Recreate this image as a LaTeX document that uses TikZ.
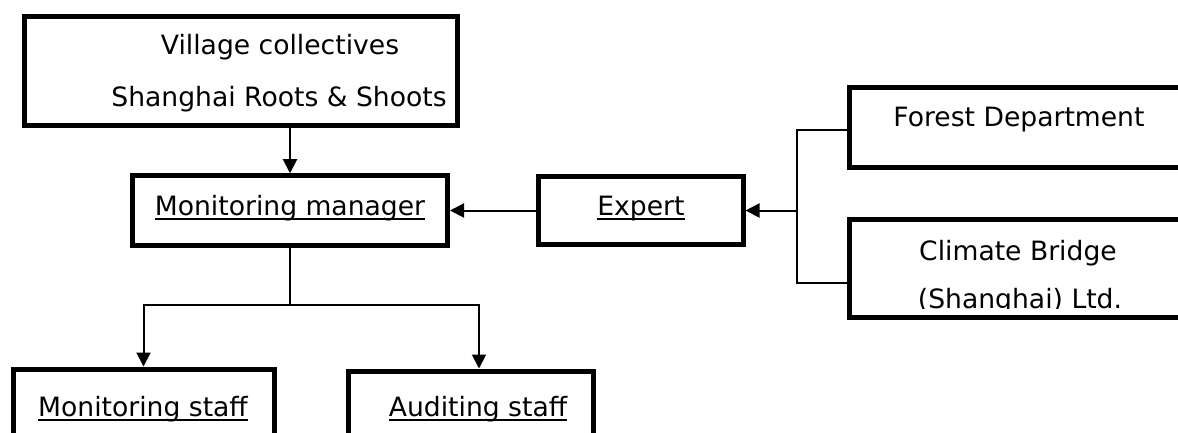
\documentclass[tikz,border=0pt]{standalone}
\usepackage{fontspec}
\setmainfont{DejaVu Sans}
\usetikzlibrary{arrows.meta,calc}
\newcommand{\myul}[1]{\setbox0\hbox{#1}\rlap{\rule[-5pt]{\wd0}{1.8pt}}\box0}
\tikzset{
  box/.style={draw, line width=5pt, inner sep=0pt},
  lbl/.style={anchor=base, inner sep=0pt, font=\fontsize{26.6}{30}\selectfont},
  conn/.style={line width=2pt},
  arr/.style={conn, -{Triangle[length=14pt,width=14pt]}}
}
\begin{document}
\begin{tikzpicture}[x=1pt,y=-1pt]
\fill[white] (0,0) rectangle (1178,433);
\useasboundingbox (0,0) rectangle (1178,433);
% boxes
\node[box, minimum width=433pt, minimum height=109pt] (village) at (240.5,71) {};
\node[box, minimum width=315pt, minimum height=70pt] (mm) at (290,210.75) {};
\node[box, minimum width=205pt, minimum height=68pt] (expert) at (640.5,210.5) {};
\node[box, minimum width=400pt, minimum height=80pt] (forest) at (1049.5,127.5) {};
\node[box, minimum width=400pt, minimum height=97.5pt] (climate) at (1049.5,268.25) {};
\node[box, minimum width=261pt, minimum height=111pt] (monstaff) at (143.5,424.5) {};
\node[box, minimum width=245pt, minimum height=109pt] (audstaff) at (470.5,425.5) {};
% texts
\node[lbl] (t1) at (280,55) {Village collectives};
\node[lbl] (t2) at (279,107) {Shanghai Roots \& Shoots};
\node[lbl] (tmm) at (290,215) {\myul{Monitoring manager}};
\node[lbl] (texp) at (641,215) {\myul{Expert}};
\node[lbl] (tfor) at (1019,127) {Forest Department};
\node[lbl] (tcl1) at (1018,260) {Climate Bridge};
\begin{scope}
\clip (0,0) rectangle (1178,308.5);
\node[lbl] (tcl2) at (1020,308) {(Shanghai) Ltd.};
\end{scope}
\node[lbl] (tms) at (143,416) {\myul{Monitoring staff}};
\node[lbl] (tas) at (478,416) {\myul{Auditing staff}};
% connectors
\draw[arr] (village.south -| mm.north) -- (mm.north);
\draw[arr] (expert.west) -- (expert.west -| mm.east);
\coordinate (j) at ($(expert.east)+(51,0)$);
\draw[conn] ($(forest.west)+(0,3)$) -| (j) |- ($(climate.west)+(0,14.5)$);
\draw[arr] (j) -- (expert.east);
\coordinate (k) at ($(mm.south)+(0,57)$);
\draw[conn] (mm.south) -- (k);
\draw[arr] (k) -| (monstaff.north);
\draw[arr] (k) -| ($(audstaff.north)+(8.5,0)$);
\end{tikzpicture}
\end{document}
